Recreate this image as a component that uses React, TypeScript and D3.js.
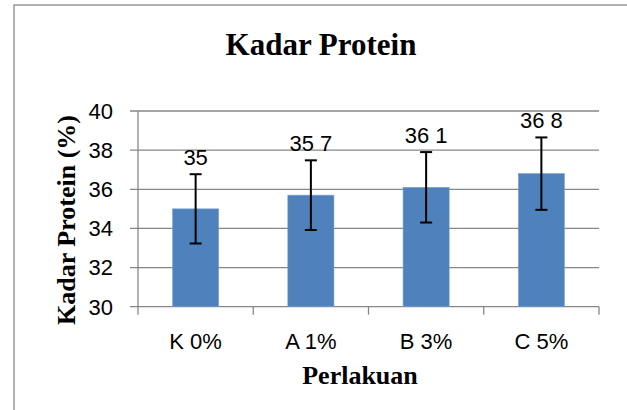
import React from "react";
import * as d3 from "d3";

const categories = ["K 0%", "A 1%", "B 3%", "C 5%"];
const values = [35, 35.7, 36.1, 36.8];
const errors = [1.77, 1.78, 1.8, 1.85];
const valueLabels = ["35", "35 7", "36 1", "36 8"];
const yTicks = [30, 32, 34, 36, 38, 40];

const W = 627;
const H = 410;
const plot = { left: 138, right: 599, top: 111, bottom: 306.7 };
const grid = "#878787";

export default function App() {
  const x = d3.scaleBand<string>().domain(categories).range([plot.left, plot.right]).paddingInner(0.6).paddingOuter(0.3);
  const xb = d3.scaleBand<string>().domain(categories).range([plot.left, plot.right]);
  const y = d3.scaleLinear().domain([30, 40]).range([plot.bottom, plot.top]);
  const boundaries = [...categories.map((c) => xb(c) as number), plot.right];

  return (
    <svg width={W} height={H} style={{ position: "absolute", left: 0, top: 0 }}>
      <rect x={0} y={0} width={W} height={H} fill="#fff" />
      <rect x={14} y={5} width={640} height={440} fill="none" stroke="#888" strokeWidth={1.3} />
      <text x={321} y={55} textAnchor="middle" fontFamily="Liberation Serif" fontWeight="bold" fontSize={31}>
        Kadar Protein
      </text>
      {yTicks.map((t) => (
        <g key={t}>
          <line x1={plot.left - 8} x2={plot.right} y1={y(t)} y2={y(t)} stroke={grid} strokeWidth={1.3} />
          <text x={113} y={y(t)} dy="0.36em" textAnchor="end" fontFamily="Liberation Sans" fontSize={22}>
            {t}
          </text>
        </g>
      ))}
      <line x1={plot.left} x2={plot.left} y1={plot.top} y2={plot.bottom} stroke={grid} strokeWidth={1.3} />
      {boundaries.map((b, i) => (
        <line key={i} x1={b} x2={b} y1={plot.bottom} y2={plot.bottom + 8} stroke={grid} strokeWidth={1.3} />
      ))}
      {categories.map((c, i) => {
        const bx = x(c) as number;
        const bw = x.bandwidth();
        const cx = bx + bw / 2;
        const v = values[i];
        const e = errors[i];
        return (
          <g key={c}>
            <rect x={bx} y={y(v)} width={bw} height={y(30) - y(v)} fill="#4F81BD" stroke="#7A9FCF" strokeWidth={0.6} />
            <line x1={cx} x2={cx} y1={y(v + e)} y2={y(v - e)} stroke="#000" strokeWidth={2} />
            <line x1={cx - 6} x2={cx + 6} y1={y(v + e)} y2={y(v + e)} stroke="#000" strokeWidth={2} />
            <line x1={cx - 6} x2={cx + 6} y1={y(v - e)} y2={y(v - e)} stroke="#000" strokeWidth={2} />
            <text x={cx} y={y(v + e) - 9} textAnchor="middle" fontFamily="Liberation Sans" fontSize={22}>
              {valueLabels[i]}
            </text>
            <text x={cx} y={349} textAnchor="middle" fontFamily="Liberation Sans" fontSize={22}>
              {c}
            </text>
          </g>
        );
      })}
      <text x={360} y={384} textAnchor="middle" fontFamily="Liberation Serif" fontWeight="bold" fontSize={26}>
        Perlakuan
      </text>
      <text
        transform={`translate(75, 220) rotate(-90)`}
        textAnchor="middle"
        fontFamily="Liberation Serif"
        fontWeight="bold"
        fontSize={26}
      >
        Kadar Protein (%)
      </text>
    </svg>
  );
}
